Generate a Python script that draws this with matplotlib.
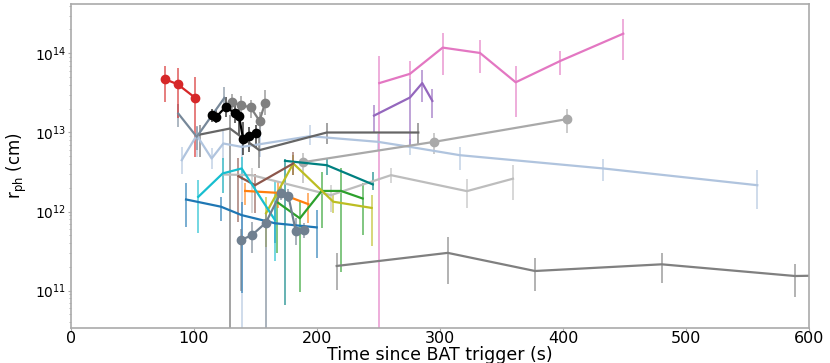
import matplotlib
matplotlib.use("Agg")
import matplotlib.pyplot as plt
import numpy as np

# ---- data (t in s, r_ph in cm, lo/hi = error-bar bounds) ----
red_t = [76.6, 86.9, 101.2]
red_r = [4.7e13, 4.06e13, 2.73e13]
red_lo = [2.4e13, 1.5e13, 4.9e12]
red_hi = [6.9e13, 6.5e13, 5.0e13]

black_t = [114.5, 118.0, 125.9, 133.3, 136.8, 140.0, 144.9, 150.8]
black_r = [1.67e13, 1.56e13, 2.1e13, 1.75e13, 1.6e13, 8.3e12, 9.1e12, 9.9e12]
black_lo = [1.36e13, 1.3e13, 1.56e13, 1.3e13, 9.2e12, 5.2e12, 5.7e12, 6.3e12]
black_hi = [2.0e13, 1.9e13, 2.8e13, 2.5e13, 2.3e13, 1.36e13, 1.17e13, 1.23e13]

gray_t = [131.4, 138.4, 146.1, 153.4, 157.9]
gray_r = [2.4e13, 2.2e13, 2.08e13, 1.4e13, 2.36e13]
gray_lo = [1.65e13, 1.57e13, 1.5e13, 1.0e13, 1.65e13]
gray_hi = [3.1e13, 2.85e13, 2.6e13, 1.8e13, 3.4e13]

slate_t = [87.4, 102.4, 124.8]
slate_r = [1.73e13, 8.8e12, 2.73e13]
slate_lo = [1.17e13, 6.0e12, 1.9e13]
slate_hi = [2.3e13, 1.2e13, 3.8e13]

dim_t = [105.0, 129.4, 153.2, 208.0, 282.4]
dim_r = [9.4e12, 1.12e13, 5.96e12, 9.97e12, 9.97e12]
dim_lo = [4.9e12, 1e10, 3.6e12, 7.1e12, 7.1e12]
dim_hi = [1.23e13, 1.65e13, 9.0e12, 1.3e13, 1.3e13]

lsb_t = [90.2, 102.4, 114.5, 124.0, 138.9, 153.8, 194.4, 249.6, 275.6, 316.2, 432.7, 557.8]
lsb_r = [4.46e12, 9.2e12, 4.68e12, 7.24e12, 6.56e12, 7.1e12, 8.96e12, 7.6e12, 6.56e12, 5.15e12, 3.5e12, 2.15e12]
lsb_lo = [3.0e12, 4.9e12, 3.4e12, 4.5e12, 1e10, 4.9e12, 6.9e12, 6.0e12, 5.2e12, 3.3e12, 2.4e12, 1.08e12]
lsb_hi = [6.6e12, 1.17e13, 6.4e12, 1.03e13, 8.8e12, 1.2e13, 1.23e13, 9.5e12, 8.2e12, 6.6e12, 4.6e12, 3.3e12]

pink_t = [250.7, 275.6, 302.2, 332.5, 361.5, 397.7, 448.9]
pink_r = [4.2e13, 5.5e13, 1.18e14, 1.01e14, 4.3e13, 8.0e13, 1.77e14]
pink_lo = [1e10, 4.8e13, 5.3e13, 5.6e13, 1.57e13, 5.3e13, 8.2e13]
pink_hi = [9.2e13, 7.9e13, 1.82e14, 1.46e14, 6.9e13, 1.06e14, 2.7e14]

purple_t = [246.4, 275.6, 285.6, 293.8]
purple_r = [1.63e13, 2.76e13, 4.2e13, 2.5e13]
purple_lo = [1.0e13, 6.8e12, 2.4e13, 1.54e13]
purple_hi = [2.2e13, 4.8e13, 6.1e13, 3.5e13]

dgray_t = [188.7, 295.4, 402.9]
dgray_r = [4.2e12, 7.6e12, 1.47e13]
dgray_lo = [2.26e12, 5.4e12, 9.7e12]
dgray_hi = [5.5e12, 9.7e12, 2.0e13]

silver_t = [123.7, 147.3, 211.4, 260.2, 321.9, 359.3]
silver_r = [2.94e12, 2.88e12, 1.61e12, 2.88e12, 1.81e12, 2.6e12]
silver_lo = [1.7e12, 9.6e11, 9.9e11, 2.26e12, 1.1e12, 1.39e12]
silver_hi = [4.7e12, 3.6e12, 2.15e12, 3.5e12, 2.54e12, 3.85e12]

brown_t = [136.2, 149.8, 180.8]
brown_r = [2.8e12, 2.15e12, 4.05e12]
brown_lo = [7.4e11, 9.5e11, 2.9e12]
brown_hi = [4.7e12, 3.0e12, 5.7e12]

orange_t = [141.7, 168.6, 193.0]
orange_r = [1.82e12, 1.72e12, 1.24e12]
orange_lo = [1.2e12, 1.1e12, 7.1e11]
orange_hi = [2.26e12, 2.37e12, 1.7e12]

cyan_t = [103.6, 123.5, 138.9, 165.9]
cyan_r = [1.53e12, 3.03e12, 3.5e12, 7.8e11]
cyan_lo = [5.3e11, 1.7e12, 2.5e12, 2.35e11]
cyan_hi = [2.5e12, 4.7e12, 4.9e12, 2.5e12]

blue_t = [93.7, 122.1, 138.9, 166.0, 199.8]
blue_r = [1.42e12, 1.15e12, 9.0e11, 7.1e11, 6.3e11]
blue_lo = [6.3e11, 7.6e11, 9.2e10, 4.0e11, 2.56e11]
blue_hi = [2.26e12, 1.53e12, 1.3e12, 1.2e12, 1.04e12]

olive_t = [158.7, 180.8, 213.3, 244.5]
olive_r = [9.5e11, 4.05e12, 1.33e12, 1.11e12]
olive_lo = [3.6e11, 2.9e12, 9.5e11, 3.66e11]
olive_hi = [1.53e12, 5.15e12, 1.61e12, 1.61e12]

green_t = [167.3, 186.2, 203.9, 219.6, 237.2]
green_r = [1.33e12, 8.2e11, 1.82e12, 1.82e12, 1.46e12]
green_lo = [2.96e11, 9.7e10, 6.2e11, 1.73e11, 5.1e11]
green_hi = [1.7e12, 1.38e12, 3.2e12, 3.5e12, 2.3e12]

teal_t = [174.1, 208.0, 245.4]
teal_r = [4.37e12, 3.85e12, 2.2e12]
teal_lo = [6.6e10, 2.9e12, 1.86e12]
teal_hi = [4.6e12, 4.7e12, 3.2e12]

bottom_t = [216.1, 306.3, 377.2, 480.1, 588.4, 620.0]
bottom_r = [2.05e11, 3.0e11, 1.77e11, 2.15e11, 1.53e11, 1.56e11]
bottom_lo = [1.02e11, 1.21e11, 1.0e11, 1.26e11, 8.4e10, 8.4e10]
bottom_hi = [3.0e11, 4.8e11, 2.56e11, 2.96e11, 2.17e11, 2.17e11]

sg_t = [138.2, 147.0, 158.5, 170.6, 176.8, 182.8, 189.8]
sg_r = [4.36e11, 5.0e11, 7.2e11, 1.72e12, 1.58e12, 5.7e11, 5.8e11]
sg_lo = [1.0e11, 2.96e11, 1e10, 1.4e12, 1.3e12, 3.8e11, 4.6e11]
sg_hi = [6.0e11, 7.4e11, 1.0e12, 2.1e12, 1.9e12, 8.2e11, 7.1e11]

series = [
    (bottom_t, bottom_r, bottom_lo, bottom_hi, '#808080', None),
    (lsb_t, lsb_r, lsb_lo, lsb_hi, '#b0c4de', None),
    (dim_t, dim_r, dim_lo, dim_hi, '#666666', None),
    (dgray_t, dgray_r, dgray_lo, dgray_hi, '#a9a9a9', 'o'),
    (silver_t, silver_r, silver_lo, silver_hi, '#bdbdbd', None),
    (pink_t, pink_r, pink_lo, pink_hi, '#e377c2', None),
    (purple_t, purple_r, purple_lo, purple_hi, '#9467bd', None),
    (teal_t, teal_r, teal_lo, teal_hi, '#008080', None),
    (green_t, green_r, green_lo, green_hi, '#2ca02c', None),
    (olive_t, olive_r, olive_lo, olive_hi, '#bcbd22', None),
    (brown_t, brown_r, brown_lo, brown_hi, '#8c564b', None),
    (orange_t, orange_r, orange_lo, orange_hi, '#ff7f0e', None),
    (blue_t, blue_r, blue_lo, blue_hi, '#1f77b4', None),
    (cyan_t, cyan_r, cyan_lo, cyan_hi, '#17becf', None),
    (sg_t, sg_r, sg_lo, sg_hi, '#708090', 'o'),
    (slate_t, slate_r, slate_lo, slate_hi, '#778899', None),
    (gray_t, gray_r, gray_lo, gray_hi, '#808080', 'o'),
    (red_t, red_r, red_lo, red_hi, '#d62728', 'o'),
    (black_t, black_r, black_lo, black_hi, '#000000', 'o'),
]

fig = plt.figure(figsize=(8.3, 3.63), dpi=100)
ax = fig.add_axes([0.0852, 0.0973, 0.8898, 0.8917])

for t, r, lo, hi, c, m in series:
    t = np.array(t); r = np.array(r)
    yerr = [r - np.array(lo), np.array(hi) - r]
    eb = ax.errorbar(t, r, yerr=yerr, color=c, lw=1.6, marker=m, ms=6,
                     elinewidth=1.2, capsize=0)
    for col in eb[2]:
        col.set_alpha(0.7)

ax.set_yscale('log')
ax.set_xlim(0, 600)
ax.set_ylim(3.4e10, 4.2e14)
ax.set_xticks([0, 100, 200, 300, 400, 500, 600])

for s in ax.spines.values():
    s.set_color('#aaaaaa')
    s.set_linewidth(1.2)
ax.tick_params(axis='x', which='major', length=2, color='#aaaaaa', labelsize=11.5, pad=0.5)
ax.tick_params(axis='y', which='major', length=2, color='#aaaaaa', labelsize=10, pad=1)
ax.tick_params(axis='y', which='minor', length=1.5, color='#aaaaaa')

ax.set_xlabel('Time since BAT trigger (s)', fontsize=12.5, labelpad=0)
ax.set_ylabel(r'r$_{\rm ph}$ (cm)', fontsize=12, labelpad=4)

fig.savefig('out.png', dpi=100)
